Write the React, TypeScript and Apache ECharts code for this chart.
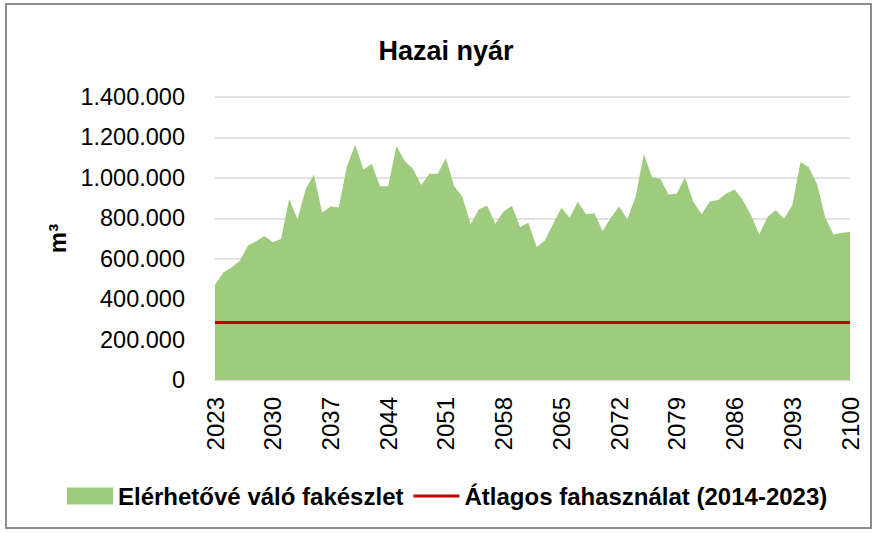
import React, { useEffect, useRef } from "react";
import * as echarts from "echarts";

const years: string[] = [];
for (let y = 2023; y <= 2100; y++) years.push(String(y));

const availableStock = [
  470000, 532000, 557000, 590000, 665000, 687000, 712000, 682000, 698000, 895000,
  795000, 945000, 1017000, 828000, 858000, 853000, 1058000, 1165000, 1040000, 1070000,
  958000, 958000, 1158000, 1083000, 1045000, 965000, 1020000, 1020000, 1098000, 958000,
  907000, 770000, 845000, 862000, 773000, 833000, 862000, 757000, 778000, 658000,
  690000, 773000, 852000, 803000, 882000, 820000, 825000, 737000, 803000, 858000,
  795000, 907000, 1118000, 1003000, 995000, 917000, 923000, 1003000, 882000, 820000,
  883000, 890000, 923000, 942000, 890000, 815000, 720000, 808000, 840000, 798000,
  865000, 1078000, 1053000, 970000, 803000, 720000, 728000, 732000,
];

const averageUse = 285000;

const seriesNames = ["Elérhetővé váló fakészlet", "Átlagos fahasználat (2014-2023)"];
const title = "Hazai nyár";
const yName = "m³";

const FONT = "'Liberation Sans', Arial, sans-serif";

function fmt(v: number): string {
  return String(Math.round(v)).replace(/\B(?=(\d{3})+(?!\d))/g, ".");
}

export default function App() {
  const ref = useRef<HTMLDivElement>(null);
  useEffect(() => {
    if (!ref.current) return;
    const chart = echarts.init(ref.current, null, { renderer: "svg" });
    chart.setOption({
      animation: false,
      backgroundColor: "#ffffff",
      title: {
        text: title,
        left: 441,
        textAlign: "center",
        top: 32,
        textStyle: { fontFamily: FONT, fontSize: 27, fontWeight: "bold", color: "#000" },
      },
      legend: {
        left: 62,
        top: 479,
        itemWidth: 46,
        itemHeight: 17,
        itemGap: 10,
        textStyle: { fontFamily: FONT, fontSize: 24, fontWeight: "bold", color: "#000" },
        data: [
          { name: seriesNames[0], icon: "rect" },
          { name: seriesNames[1], icon: "path://M0,0H46V3H0Z" },
        ],
      },
      grid: { left: 215, right: 25, top: 97, bottom: 153, containLabel: false },
      xAxis: {
        type: "category",
        data: years,
        boundaryGap: false,
        axisTick: { show: false },
        axisLine: { lineStyle: { color: "#d9d9d9", width: 1.5 } },
        axisLabel: {
          rotate: 90,
          interval: 6,
          margin: 17,
          fontFamily: FONT,
          fontSize: 24,
          color: "#000",
        },
      },
      yAxis: {
        type: "value",
        min: 0,
        max: 1400000,
        interval: 200000,
        name: yName,
        nameLocation: "middle",
        nameGap: 140,
        nameRotate: 90,
        nameTextStyle: { fontFamily: FONT, fontSize: 24, fontWeight: "bold", color: "#000" },
        axisLine: { show: false },
        axisTick: { show: false },
        splitLine: { lineStyle: { color: "#d9d9d9", width: 1.5 } },
        axisLabel: {
          formatter: (v: number) => fmt(v),
          margin: 30,
          fontFamily: FONT,
          fontSize: 23.5,
          color: "#000",
        },
      },
      series: [
        {
          name: seriesNames[0],
          type: "line",
          data: availableStock,
          symbol: "none",
          lineStyle: { width: 0, color: "#9fcb7f" },
          itemStyle: { color: "#9fcb7f" },
          areaStyle: { color: "#9fcb7f", opacity: 1 },
        },
        {
          name: seriesNames[1],
          type: "line",
          data: [],
          symbol: "none",
          itemStyle: { color: "#c00000" },
          lineStyle: { color: "#c00000", width: 3 },
          markLine: {
            silent: true,
            symbol: "none",
            label: { show: false },
            lineStyle: { color: "#c00000", width: 3, type: "solid" },
            data: [{ yAxis: averageUse }],
          },
        },
      ],
    });
    return () => chart.dispose();
  }, []);
  return (
    <div style={{ position: "fixed", left: 0, top: 0, width: 875, height: 533, background: "#fff" }}>
      <div ref={ref} style={{ position: "absolute", left: 0, top: 0, width: 875, height: 533 }} />
      <div
        style={{
          position: "absolute",
          left: 5,
          top: 3,
          width: 863,
          height: 522,
          border: "2px solid #8c8c8c",
          pointerEvents: "none",
        }}
      />
    </div>
  );
}
